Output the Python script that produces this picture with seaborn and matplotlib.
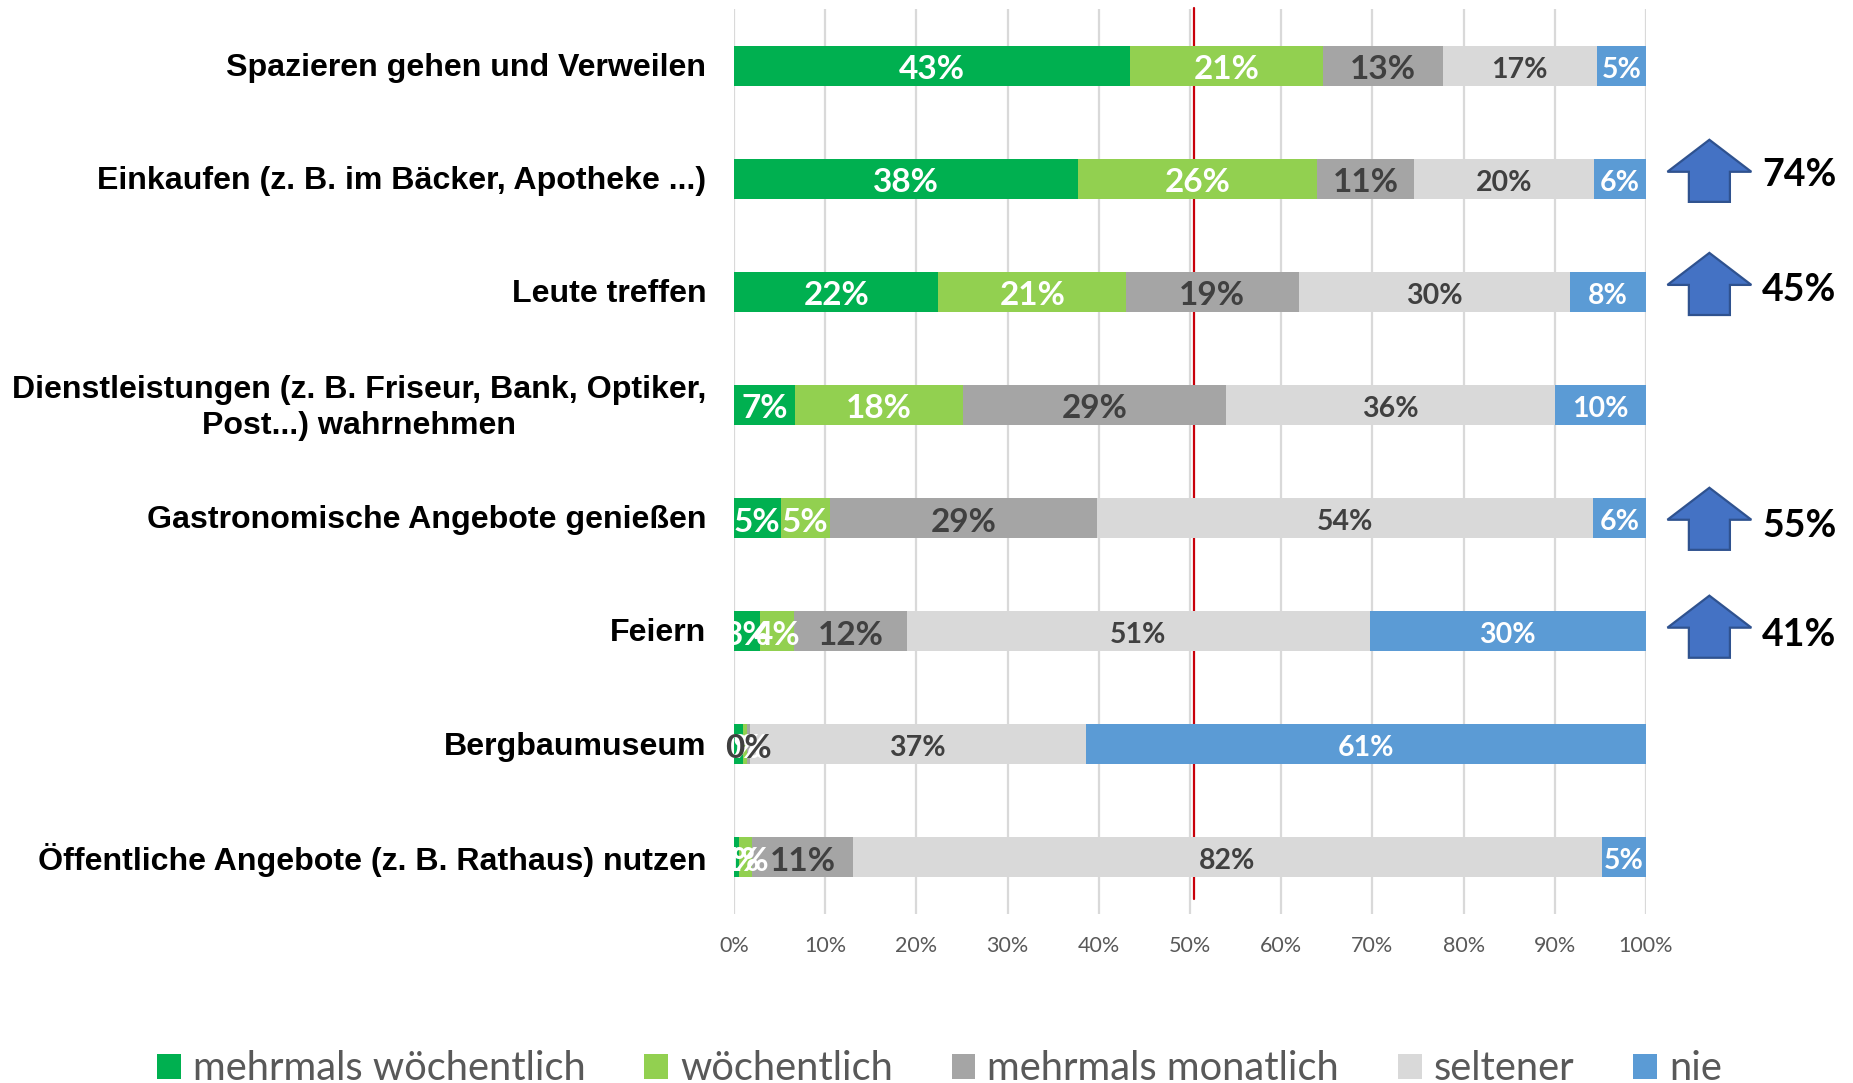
import matplotlib
matplotlib.use('Agg')
import matplotlib.pyplot as plt
from matplotlib.patches import Polygon
from matplotlib.transforms import ScaledTranslation
import seaborn as sns
import numpy as np
import pandas as pd

categories = [
    'Spazieren gehen und Verweilen',
    'Einkaufen (z. B. im Bäcker, Apotheke ...)',
    'Leute treffen',
    'Dienstleistungen (z. B. Friseur, Bank, Optiker,\nPost...) wahrnehmen',
    'Gastronomische Angebote genießen',
    'Feiern',
    'Bergbaumuseum',
    'Öffentliche Angebote (z. B. Rathaus) nutzen',
]
series_names = ['mehrmals wöchentlich', 'wöchentlich', 'mehrmals monatlich', 'seltener', 'nie']
mehrmals_woechentlich = [43.4, 37.7, 22.4, 6.7, 5.1, 2.9, 1.0, 0.6]
woechentlich = [21.2, 26.2, 20.6, 18.4, 5.4, 3.7, 0.4, 1.4]
mehrmals_monatlich = [13.1, 10.7, 18.9, 28.9, 29.3, 12.4, 0.3, 11.0]
seltener = [16.9, 19.7, 29.8, 36.0, 54.4, 50.7, 36.9, 82.2]
nie = [5.4, 5.7, 8.3, 10.0, 5.8, 30.3, 61.4, 4.8]

colors = ['#00B050', '#92D050', '#A5A5A5', '#D9D9D9', '#5B9BD5']
label_colors = ['white', 'white', '#404040', '#404040', 'white']
label_sizes = [24, 24, 24, 20.5, 20.5]

trend_rows = [1, 2, 4, 5]
trend_values = ['74%', '45%', '55%', '41%']
# the arrows are hand placed in the original, not quite on the row centres
arrow_shift = [0.01, 0.01, 0.086, 0.04]
text_shift = [-0.03, -0.02, 0.07, 0.03]
reference_value = 50.4
ticks = list(range(0, 101, 10))

sns.set_style('white')
plt.rcParams['font.family'] = ['Lato', 'DejaVu Sans']

W, H = 1853, 1083
fig = plt.figure(figsize=(W / 100, H / 100), dpi=100)
ax = fig.add_axes([734 / W, 1 - 914 / H, 912 / W, 905 / H])

values = np.array([mehrmals_woechentlich, woechentlich, mehrmals_monatlich, seltener, nie])
cum = values.cumsum(axis=0)
cum = cum / cum[-1] * 100

# seaborn has no stacking, so draw cumulative totals back to front
for i in range(len(series_names) - 1, -1, -1):
    df = pd.DataFrame({'cat': categories, 'val': cum[i]})
    sns.barplot(data=df, y='cat', x='val', color=colors[i], saturation=1,
                width=0.354, ax=ax, zorder=3, label=series_names[i],
                order=categories, linewidth=0)

handles, labels = ax.get_legend_handles_labels()
ax.get_legend().remove()

ax.set_xlim(0, 100)
ax.set_ylim(7.5, -0.5)
ax.set_xlabel('')
ax.set_ylabel('')
sns.despine(ax=ax, left=True, bottom=True)
ax.set_xticks(ticks)
ax.set_xticklabels([f'{t}%' for t in ticks], fontsize=15.5, color='#595959')
ax.xaxis.grid(True, color='#D9D9D9', linewidth=1.6, zorder=0)
ax.yaxis.grid(False)
ax.set_axisbelow(True)
ax.tick_params(axis='x', length=0, pad=16)
ax.tick_params(axis='y', length=0, pad=20)
for lab in ax.get_yticklabels():
    lab.set_fontfamily('Liberation Sans')
    lab.set_fontweight('bold')
    lab.set_fontsize(23.1)
    lab.set_color('black')
    lab.set_multialignment('center')
    lab.set_linespacing(1.25)
    up = 3.2 if '\n' in lab.get_text() else 1.2
    lab.set_transform(lab.get_transform() + ScaledTranslation(0, up / 100, fig.dpi_scale_trans))

# reference line sits behind the bars
ax.plot([reference_value, reference_value], [-0.51, 7.37], color='#C8000A',
        linewidth=1.6, zorder=2, clip_on=False)

# value labels
for i in range(len(series_names)):
    starts = cum[i - 1] if i > 0 else np.zeros(len(categories))
    for r in range(len(categories)):
        ax.text((starts[r] + cum[i][r]) / 2, r + 0.035, f'{values[i][r]:.0f}%',
                ha='center', va='center', color=label_colors[i], fontsize=label_sizes[i],
                fontweight='bold', zorder=5, clip_on=False)

# trend arrows to the right of the bars
arrow_x = [0, 4.6, 2.25, 2.25, -2.25, -2.25, -4.6]
arrow_y = [-0.354, -0.071, -0.071, 0.195, 0.195, -0.071, -0.071]
for r, txt, a_off, t_off in zip(trend_rows, trend_values, arrow_shift, text_shift):
    pts = np.column_stack([106.95 + np.array(arrow_x), r + a_off + np.array(arrow_y)])
    ax.add_patch(Polygon(pts, closed=True, facecolor='#4472C4', edgecolor='#2F528F',
                         linewidth=1.6, clip_on=False, zorder=4))
    ax.text(116.8, r + t_off, txt, ha='center', va='center', fontsize=27,
            fontweight='bold', color='black', clip_on=False)

order = [labels.index(n) for n in series_names]
leg = fig.legend([handles[j] for j in order], series_names, loc='center left',
                 bbox_to_anchor=(157 / W, 1 - 1069 / H), ncol=5, frameon=False,
                 fontsize=28.7, labelcolor='#595959', handlelength=0.6, handleheight=0.6,
                 handletextpad=0.3, columnspacing=1.47, borderpad=0, borderaxespad=0)

fig.savefig('out.png', dpi=100)
